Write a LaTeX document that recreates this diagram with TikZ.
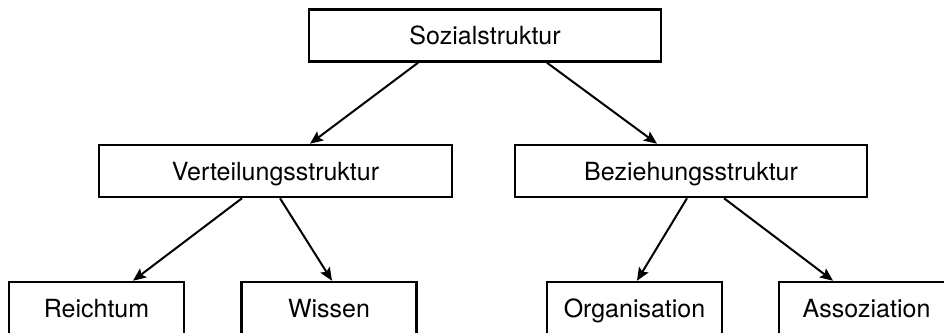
\documentclass[tikz,border=0pt]{standalone}
\usepackage{fontspec}
\setmainfont{TeX Gyre Heros}
\usetikzlibrary{calc,arrows.meta}
\tikzset{
  box/.style={draw=black, line width=2.5pt, fill=white, minimum height=52pt, inner sep=0pt,
    text height=18pt, text depth=0pt, font=\fontsize{25}{28}\selectfont},
  conn/.style={line width=2pt, -{Stealth[length=13pt,width=11pt,inset=2.5pt]}}
}
\begin{document}
\begin{tikzpicture}[x=1pt,y=-1pt]
\useasboundingbox (0,0) rectangle (944,332);
\clip (0,0) rectangle (944,332);
\node[box, minimum width=352pt] (soz) at (485,35.5) {Sozialstruktur};
\node[box, minimum width=353pt] (ver) at (275.5,171) {Verteilungsstruktur};
\node[box, minimum width=352pt] (bez) at (691,171) {Beziehungsstruktur};
\node[box, minimum width=175pt] (rei) at (96.5,308) {Reichtum};
\node[box, minimum width=175pt] (wis) at (329,308) {Wissen};
\node[box, minimum width=175pt] (org) at (634.5,308) {Organisation};
\node[box, minimum width=175pt] (ass) at (866.5,308) {Assoziation};
\draw[conn] ($(soz.south)+(-67,0)$) -- ($(ver.north)+(34.5,0)$);
\draw[conn] ($(soz.south)+(62,0)$) -- ($(bez.north)+(-34,0)$);
\draw[conn] ($(ver.south)+(-33.5,0)$) -- ($(rei.north)+(36.5,0)$);
\draw[conn] ($(ver.south)+(4.5,0)$) -- ($(wis.north)+(3,0)$);
\draw[conn] ($(bez.south)+(-4,0)$) -- ($(org.north)+(2.5,0)$);
\draw[conn] ($(bez.south)+(33,0)$) -- ($(ass.north)+(-33.5,0)$);
\end{tikzpicture}
\end{document}
